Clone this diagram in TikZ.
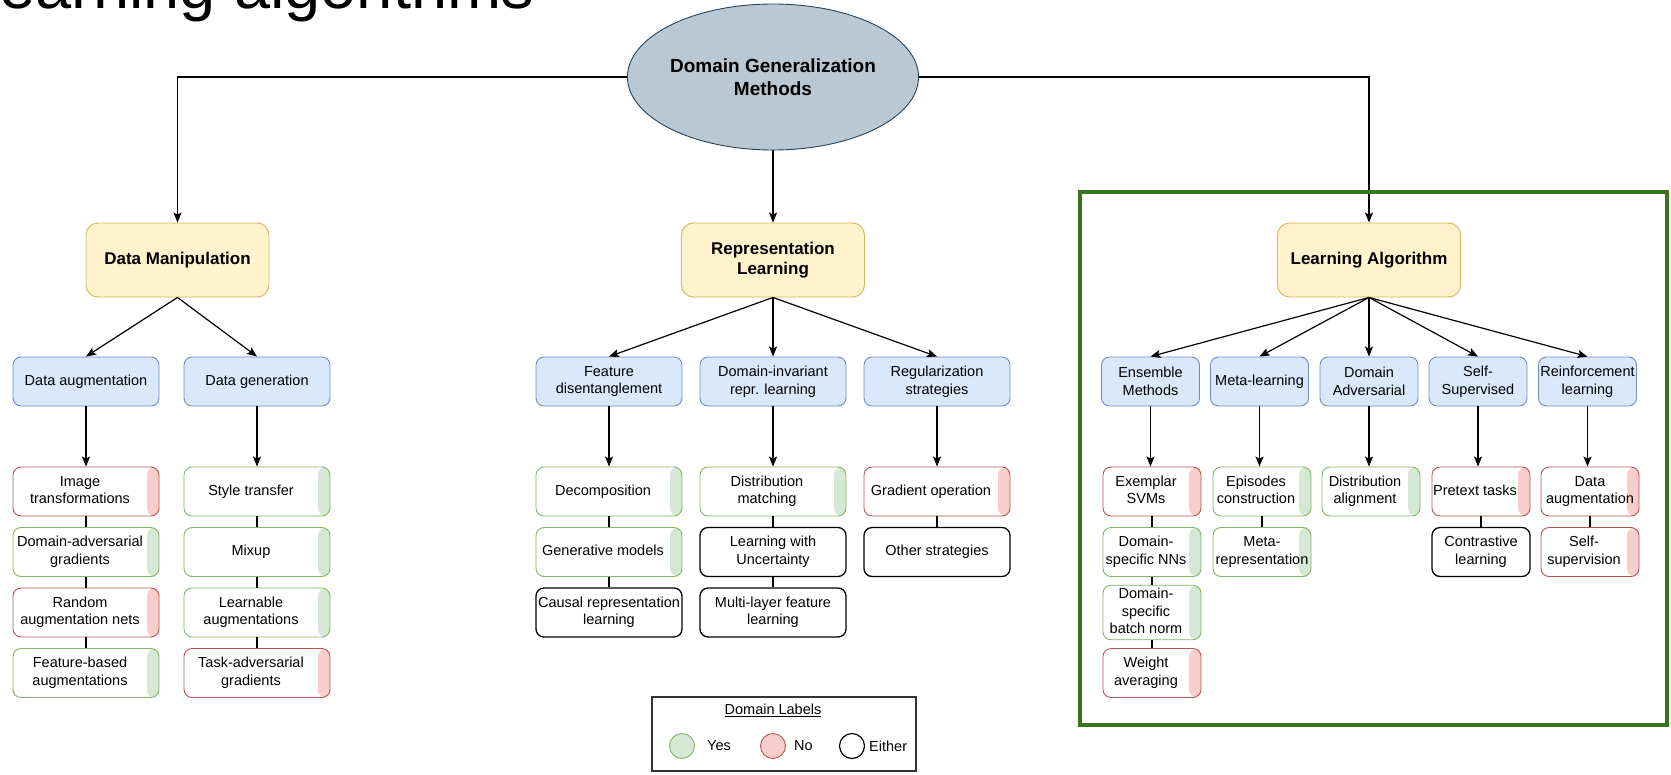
\documentclass[tikz,border=0pt]{standalone}
\usepackage{fontspec}
\setmainfont{Liberation Sans}
\usetikzlibrary{arrows.meta,shapes.geometric}
\definecolor{bluefill}{HTML}{DAE8FC}\definecolor{bluedraw}{HTML}{6C8EBF}
\definecolor{yelfill}{HTML}{FFF2CC}\definecolor{yeldraw}{HTML}{D6B656}
\definecolor{grnfill}{HTML}{D5E8D4}\definecolor{grndraw}{HTML}{82B366}
\definecolor{redfill}{HTML}{F8CECC}\definecolor{reddraw}{HTML}{B85450}
\definecolor{ellfill}{HTML}{BAC8D3}\definecolor{elldraw}{HTML}{23445D}
\definecolor{framegreen}{HTML}{38761D}
\newcommand{\sh}[1]{\begin{tabular}{@{}c@{}}#1\end{tabular}\hspace*{12pt}}
\newcommand{\ct}[1]{\begin{tabular}{@{}c@{}}#1\end{tabular}}
\tikzset{
  base/.style={rounded corners=8pt, font=\fontsize{14.5}{17.5}\selectfont, inner sep=1pt, align=center, text=black},
  yelbox/.style={draw=yeldraw, fill=yelfill, rounded corners=12pt, minimum width=183pt, minimum height=74pt,
     font=\bfseries\fontsize{17}{20.5}\selectfont, align=center, line width=0.9pt},
  bluebox/.style={base, draw=bluedraw, fill=bluefill, minimum height=49pt, line width=0.9pt},
  wide/.style={minimum width=146pt},
  narrow/.style={minimum width=98pt},
  leaf/.style={base, fill=white, minimum height=49pt},
  yesleaf/.style={leaf, draw=grndraw, line width=0.9pt,
     path picture={\fill[grnfill] ([xshift=-12pt]path picture bounding box.north east) rectangle (path picture bounding box.south east);}},
  noleaf/.style={leaf, draw=reddraw, line width=0.9pt,
     path picture={\fill[redfill] ([xshift=-12pt]path picture bounding box.north east) rectangle (path picture bounding box.south east);}},
  anyleaf/.style={leaf, draw=black, line width=1.3pt},
  arr/.style={-{Stealth[length=10pt,width=8pt,inset=2pt]}, line width=1.2pt},
  conn/.style={line width=1.2pt},
}
\begin{document}
\begin{tikzpicture}[x=1pt,y=-1pt]
\useasboundingbox (0,0) rectangle (1671,774);
\clip (0,0) rectangle (1671,774);
% partial slide title
\node[anchor=base west, font=\fontsize{65}{70}\selectfont, inner sep=0pt] (title) at (-37,8) {Learning algorithms};
% root
\node[ellipse, draw=elldraw, fill=ellfill, line width=0.9pt, minimum width=234pt, minimum height=146pt,
  font=\bfseries\fontsize{19}{23}\selectfont, align=center, inner sep=0pt] (root) at (773,77) {Domain Generalization\\Methods};
% level 1
\node[yelbox] (dm) at (177.5,260) {Data Manipulation};
\node[yelbox] (rl) at (773,260) {Representation\\Learning};
\node[yelbox] (la) at (1369,260) {Learning Algorithm};
\draw[arr] (root.west) -| (dm.north);
\draw[arr] (root.east) -| (la.north);
\draw[arr] (root.south) -- (rl.north);
% green frame
\draw[framegreen, line width=4pt] (1080,192) rectangle (1667,725);
% level 2
\node[bluebox, wide] (da) at (86,381.5) {Data augmentation};
\node[bluebox, wide] (dg) at (257,381.5) {Data generation};
\node[bluebox, wide] (fd) at (609,381.5) {Feature\\disentanglement};
\node[bluebox, wide] (di) at (773,381.5) {Domain-invariant\\repr. learning};
\node[bluebox, wide] (rs) at (937,381.5) {Regularization\\strategies};
\node[bluebox, narrow] (em) at (1150.5,381.5) {Ensemble\\Methods};
\node[bluebox, narrow] (ml) at (1259.5,381.5) {Meta-learning};
\node[bluebox, narrow] (dad) at (1369,381.5) {Domain\\Adversarial};
\node[bluebox, narrow] (ss) at (1478,381.5) {Self-\\Supervised};
\node[bluebox, narrow] (rf) at (1587.5,381.5) {Reinforcement\\learning};
\foreach \a/\b in {dm/da, dm/dg, rl/fd, rl/di, rl/rs, la/em, la/ml, la/dad, la/ss, la/rf}
  \draw[arr] (\a.south) -- (\b.north);
% leaves: Data augmentation
\node[noleaf, wide] (da1) at (86,491.5) {\sh{Image\\transformations}};
\node[yesleaf, wide] (da2) at (86,552) {\sh{Domain-adversarial\\gradients}};
\node[noleaf, wide] (da3) at (86,612.5) {\sh{Random\\augmentation nets}};
\node[yesleaf, wide] (da4) at (86,673) {\sh{Feature-based\\augmentations}};
% Data generation
\node[yesleaf, wide] (dg1) at (257,491.5) {\sh{Style transfer}};
\node[yesleaf, wide] (dg2) at (257,552) {\sh{Mixup}};
\node[yesleaf, wide] (dg3) at (257,612.5) {\sh{Learnable\\augmentations}};
\node[noleaf, wide] (dg4) at (257,673) {\sh{Task-adversarial\\gradients}};
% Feature disentanglement
\node[yesleaf, wide] (fd1) at (609,491.5) {\sh{Decomposition}};
\node[yesleaf, wide] (fd2) at (609,552) {\sh{Generative models}};
\node[anyleaf, wide] (fd3) at (609,612.5) {\ct{Causal representation\\learning}};
% Domain-invariant
\node[yesleaf, wide] (di1) at (773,491.5) {\sh{Distribution\\matching}};
\node[anyleaf, wide] (di2) at (773,552) {\ct{Learning with\\Uncertainty}};
\node[anyleaf, wide] (di3) at (773,612.5) {\ct{Multi-layer feature\\learning}};
% Regularization
\node[noleaf, wide] (rs1) at (937,491.5) {\sh{Gradient operation}};
\node[anyleaf, wide] (rs2) at (937,552) {\ct{Other strategies}};
% Ensemble
\node[noleaf, narrow] (em1) at (1152,491.5) {\sh{Exemplar\\SVMs}};
\node[yesleaf, narrow] (em2) at (1152,552) {\sh{Domain-\\specific NNs}};
\node[yesleaf, narrow] (em3) at (1152,612.5) {\sh{Domain-\\specific\\batch norm}};
\node[noleaf, narrow] (em4) at (1152,673) {\sh{Weight\\averaging}};
% Meta-learning
\node[yesleaf, narrow] (ml1) at (1262,491.5) {\sh{Episodes\\construction}};
\node[yesleaf, narrow] (ml2) at (1262,552) {\ct{Meta-\\representation}};
% Domain adversarial
\node[yesleaf, narrow] (dad1) at (1371,491.5) {\sh{Distribution\\alignment}};
% Self-supervised
\node[noleaf, narrow] (ss1) at (1481,491.5) {\sh{Pretext tasks}};
\node[anyleaf, narrow] (ss2) at (1481,552) {\ct{Contrastive\\learning}};
% Reinforcement
\node[noleaf, narrow] (rf1) at (1590,491.5) {\ct{Data\\augmentation}};
\node[noleaf, narrow] (rf2) at (1590,552) {\sh{Self-\\supervision}};
% arrows to first leaves
\foreach \a/\b in {da/da1, dg/dg1, fd/fd1, di/di1, rs/rs1, em/em1, ml/ml1, dad/dad1, ss/ss1, rf/rf1}
  \draw[arr] (\a.south) -- (\a.south |- \b.north);
% vertical connectors between leaves
\foreach \a/\b in {da1/da2, da2/da3, da3/da4, dg1/dg2, dg2/dg3, dg3/dg4, fd1/fd2, fd2/fd3, di1/di2, di2/di3,
  rs1/rs2, em1/em2, em2/em3, em3/em4, ml1/ml2, ss1/ss2, rf1/rf2}
  \draw[conn] (\a.south) -- (\b.north);
% legend
\node[draw=black!80, line width=1.2pt, minimum width=264pt, minimum height=74pt, inner sep=0pt] (legend) at (784,734) {};
\node[font=\fontsize{14.5}{17.5}\selectfont, inner sep=1pt] (lgtitle) at (773,710) {\underline{Domain Labels}};
\node[circle, draw=grndraw, fill=grnfill, line width=0.9pt, minimum size=25pt, inner sep=0pt] (cyes) at (682,746) {};
\node[circle, draw=reddraw, fill=redfill, line width=0.9pt, minimum size=25pt, inner sep=0pt] (cno) at (773,746) {};
\node[circle, draw=black, fill=white, line width=1.2pt, minimum size=25pt, inner sep=0pt] (cany) at (852,746) {};
\node[anchor=west, font=\fontsize{14.5}{17.5}\selectfont, inner sep=1pt] (tyes) at (706,746) {Yes};
\node[anchor=west, font=\fontsize{14.5}{17.5}\selectfont, inner sep=1pt] (tno) at (793,746) {No};
\node[anchor=west, font=\fontsize{14.5}{17.5}\selectfont, inner sep=1pt] (tany) at (868,746) {Either};
\end{tikzpicture}
\end{document}
